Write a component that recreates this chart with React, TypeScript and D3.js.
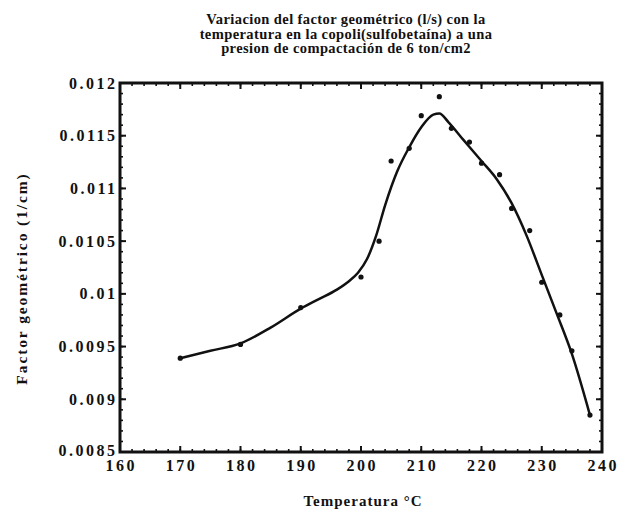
import React from "react";
import * as d3 from "d3";

// Measured points: temperature (°C) vs geometric factor (1/cm)
const temperatures = [170, 180, 190, 200, 203, 205, 208, 210, 213, 215, 218, 220, 223, 225, 228, 230, 233, 235, 238];
const factorValues = [
  0.00939, 0.00952, 0.00987, 0.01016, 0.0105, 0.01126, 0.01138, 0.01169, 0.01187, 0.01157,
  0.01144, 0.01124, 0.01113, 0.01081, 0.0106, 0.01011, 0.0098, 0.00946, 0.00885,
];

// Smoothed trend curve through the measurements
const fitTemperatures = [170, 175, 180, 185, 190, 193, 196, 198, 199.5, 201, 202.5, 204, 206, 208, 210, 212, 213, 214.5, 217, 220, 222.5, 225, 227.5, 230, 232.5, 235, 238];
const fitValues = [
  0.00939, 0.00946, 0.00953, 0.00968, 0.00986, 0.00995, 0.01004, 0.01012, 0.0102, 0.01033,
  0.01055, 0.01084, 0.01116, 0.01139, 0.01158, 0.0117, 0.01171, 0.01163, 0.01146, 0.01126,
  0.01109, 0.01086, 0.01055, 0.01018, 0.00981, 0.00943, 0.00885,
];

const xTicks = [160, 170, 180, 190, 200, 210, 220, 230, 240];
const yTicks = [0.0085, 0.009, 0.0095, 0.01, 0.0105, 0.011, 0.0115, 0.012];
const yTickLabels = ["0.0085", "0.009", "0.0095", "0.01", "0.0105", "0.011", "0.0115", "0.012"];

const titleLines = [
  "Variacion del factor geométrico (l/s) con la",
  "temperatura en la copoli(sulfobetaína) a una",
  "presion  de compactación de 6 ton/cm2",
];
const xTitle = "Temperatura  °C";
const yTitle = "Factor   geométrico   (1/cm)";

const W = 618;
const H = 517;
const plot = { left: 120, right: 602, top: 83, bottom: 452 };

export default function App() {
  const x = d3.scaleLinear().domain([160, 240]).range([plot.left, plot.right]);
  const y = d3.scaleLinear().domain([0.0085, 0.012]).range([plot.bottom, plot.top]);

  const minorX = d3.range(160, 240.001, 2);
  const minorY = d3.range(85, 120.001, 1).map((v) => v / 10000);

  const line = d3
    .line<number>()
    .x((_, i) => x(fitTemperatures[i]))
    .y((d) => y(d))
    .curve(d3.curveMonotoneX);

  const serif = "'Liberation Serif', 'DejaVu Serif', serif";
  const major = 6;
  const minor = 3;
  const tickSpacing = 2.5;

  return (
    <svg
      width={W}
      height={H}
      style={{ position: "absolute", left: 0, top: 0, background: "#fff" }}
      fontFamily={serif}
    >
      <rect x={0} y={0} width={W} height={H} fill="#fff" />

      {/* Title */}
      {titleLines.map((t, i) => (
        <text
          key={i}
          x={346}
          y={24 + i * 14.5}
          textAnchor="middle"
          fontSize={14.5}
          fontWeight="bold"
          letterSpacing={0.4}
          fill="#111"
        >
          {t}
        </text>
      ))}

      {/* Minor ticks on all four sides */}
      <g stroke="#111" strokeWidth={1.6}>
        {minorX.map((v) => (
          <g key={"mx" + v}>
            <line x1={x(v)} x2={x(v)} y1={plot.bottom} y2={plot.bottom - minor} />
            <line x1={x(v)} x2={x(v)} y1={plot.top} y2={plot.top + minor} />
          </g>
        ))}
        {minorY.map((v) => (
          <g key={"my" + v}>
            <line x1={plot.left} x2={plot.left + minor} y1={y(v)} y2={y(v)} />
            <line x1={plot.right} x2={plot.right - minor} y1={y(v)} y2={y(v)} />
          </g>
        ))}
      </g>

      {/* Major ticks */}
      <g stroke="#111" strokeWidth={2}>
        {xTicks.map((v) => (
          <g key={"Mx" + v}>
            <line x1={x(v)} x2={x(v)} y1={plot.bottom} y2={plot.bottom - major} />
            <line x1={x(v)} x2={x(v)} y1={plot.top} y2={plot.top + major} />
          </g>
        ))}
        {yTicks.map((v) => (
          <g key={"My" + v}>
            <line x1={plot.left} x2={plot.left + major} y1={y(v)} y2={y(v)} />
            <line x1={plot.right} x2={plot.right - major} y1={y(v)} y2={y(v)} />
          </g>
        ))}
      </g>

      {/* Frame */}
      <rect
        x={plot.left}
        y={plot.top}
        width={plot.right - plot.left}
        height={plot.bottom - plot.top}
        fill="none"
        stroke="#111"
        strokeWidth={3}
      />

      {/* Tick labels */}
      {xTicks.map((v) => (
        <text
          key={"lx" + v}
          x={x(v) + tickSpacing / 2}
          y={471}
          textAnchor="middle"
          fontSize={16}
          fontWeight="bold"
          letterSpacing={tickSpacing}
          fill="#111"
        >
          {v}
        </text>
      ))}
      {yTicks.map((v, i) => (
        <text
          key={"ly" + v}
          x={115 + tickSpacing}
          y={y(v) + 5.5 - (i === 0 ? 2 : 0)}
          textAnchor="end"
          fontSize={16}
          fontWeight="bold"
          letterSpacing={tickSpacing}
          fill="#111"
        >
          {yTickLabels[i]}
        </text>
      ))}

      {/* Axis titles */}
      <text
        x={363}
        y={506}
        textAnchor="middle"
        fontSize={15}
        fontWeight="bold"
        letterSpacing={1}
        fill="#111"
      >
        {xTitle}
      </text>
      <text
        transform={`translate(27,${(plot.top + plot.bottom) / 2 + 11}) rotate(-90)`}
        textAnchor="middle"
        fontSize={15.5}
        fontWeight="bold"
        letterSpacing={1.9}
        fill="#111"
      >
        {yTitle}
      </text>

      {/* Smoothed curve */}
      <path d={line(fitValues) || ""} fill="none" stroke="#111" strokeWidth={2.5} />

      {/* Measured points */}
      {temperatures.map((t, i) => (
        <circle key={"p" + t} cx={x(t)} cy={y(factorValues[i])} r={2.6} fill="#111" />
      ))}
    </svg>
  );
}
